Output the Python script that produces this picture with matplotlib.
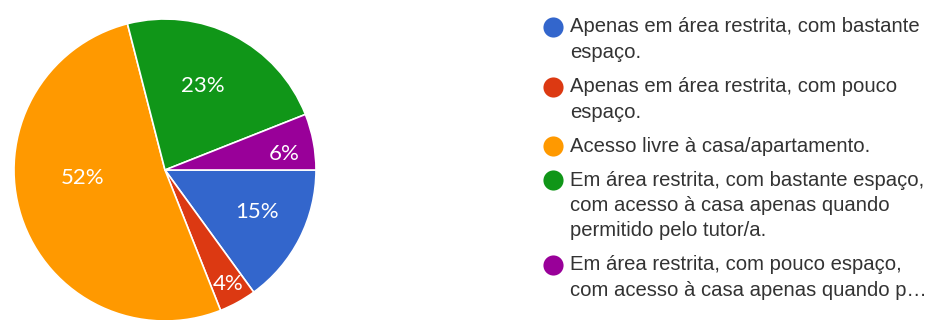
import numpy as np
import matplotlib.pyplot as plt

plt.rcParams['font.family'] = ['Liberation Sans', 'DejaVu Sans']

labels = [
    "Apenas em área restrita, com bastante\nespaço.",
    "Apenas em área restrita, com pouco\nespaço.",
    "Acesso livre à casa/apartamento.",
    "Em área restrita, com bastante espaço,\ncom acesso à casa apenas quando\npermitido pelo tutor/a.",
    "Em área restrita, com pouco espaço,\ncom acesso à casa apenas quando p…",
]
shares = [15, 4, 52, 23, 6]
colors = ['#3366CC', '#DC3912', '#FF9900', '#109618', '#990099']
# where each percentage sits: fraction of the radius, and a tweak (deg) off the slice middle
label_dist = [0.67, 0.865, 0.55, 0.61, 0.80]
label_turn = [2.5, 0, -12.5, 3, -3]

fig = plt.figure(figsize=(9.3, 3.2), dpi=100)
W, H = 930, 320
cx, cy, r = 165, 170, 151
ax = fig.add_axes([(cx - r) / W, (H - cy - r) / H, 2 * r / W, 2 * r / H])

wedges, _ = ax.pie(shares, colors=colors, startangle=0, counterclock=False,
                   wedgeprops=dict(edgecolor='white', linewidth=1.2))
ax.set_aspect('equal')
ax.set_xlim(-1, 1)
ax.set_ylim(-1, 1)

for w, val, d, t in zip(wedges, shares, label_dist, label_turn):
    mid = np.deg2rad((w.theta1 + w.theta2) / 2 + t)
    ax.text(d * np.cos(mid), d * np.sin(mid), f"{val}%", color='white',
            fontsize=16, family=['Lato', 'DejaVu Sans'], ha='center', va='center')

# legend drawn by hand on a pixel-sized overlay: dot + wrapped text
lg = fig.add_axes([0, 0, 1, 1])
lg.set_xlim(0, W)
lg.set_ylim(H, 0)
lg.axis('off')

line_h = 25.5
gap = 8.5
y = 27
for lab, col in zip(labels, colors):
    lg.plot(553, y, 'o', ms=14.5, color=col, mec='none')
    parts = lab.split('\n')
    for k, part in enumerate(parts):
        lg.text(570, y + k * line_h, part, fontsize=14.6, color='#333333',
                ha='left', va='center')
    y += len(parts) * line_h + gap

fig.savefig('out.png', dpi=100)
